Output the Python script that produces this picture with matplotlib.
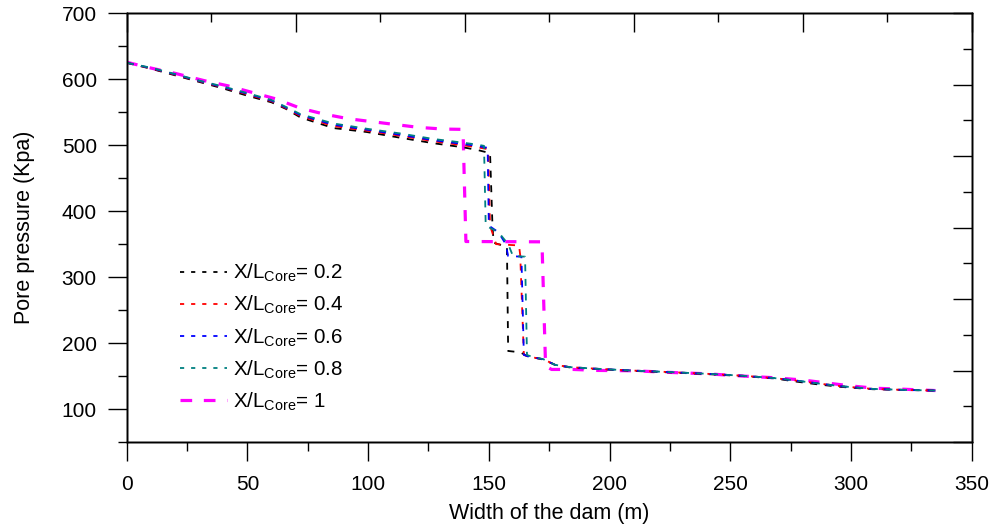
import matplotlib
matplotlib.use('Agg')
import matplotlib.pyplot as plt
from matplotlib.ticker import MultipleLocator

plt.rcParams['font.family'] = ['Liberation Sans', 'DejaVu Sans']
plt.rcParams['mathtext.fontset'] = 'custom'
plt.rcParams['mathtext.rm'] = 'Liberation Sans'
plt.rcParams['mathtext.it'] = 'Liberation Sans:italic'
plt.rcParams['lines.scale_dashes'] = False

# ---- data ----
x_02 = [0, 10, 20, 30, 40, 50, 60, 66, 72, 85.6, 99.4, 113, 127, 139, 145, 150.5,
        151.5, 152, 157.5, 158, 163, 166, 172.6, 177.4, 183.6, 195, 208.5, 225,
        240, 255, 268, 277.5, 287, 296, 309, 322, 335]
y_02 = [625, 616, 606, 596, 586, 575, 565, 555, 542, 526, 520, 511.5, 503, 497, 493, 488,
        378, 352, 346, 188, 186, 180, 175, 167, 163, 160.5, 158, 155.5,
        153, 150, 146.5, 141.5, 137, 133.5, 130, 129, 128]

x_04 = [0, 10, 20, 30, 40, 50, 60, 66, 72, 85.6, 99.4, 113, 127, 139, 145, 149.7,
        150.5, 153, 162.5, 163, 164.5, 167, 172.6, 177.4, 183.6, 195, 208.5, 225,
        240, 255, 268, 277.5, 287, 296, 309, 322, 335]
y_04 = [625, 616.5, 607, 597, 587.5, 577, 566.5, 556, 544, 529, 522, 514.5, 506, 500, 497, 494,
        378, 350, 348, 333, 182, 179, 175.5, 167, 163.5, 161, 158.5, 156,
        153.5, 150.5, 147, 143, 138.5, 134.5, 130.5, 129, 128]

x_06 = [0, 10, 20, 30, 40, 50, 60, 66, 72, 85.6, 99.4, 113, 127, 139, 145, 149.5,
        150, 154, 157, 158, 163.5, 164.5, 167, 172.6, 177.4, 183.6, 195, 208.5, 225,
        240, 255, 268, 277.5, 287, 296, 309, 322, 335]
y_06 = [625, 617, 607.5, 597.5, 588, 578, 567.5, 557, 545.5, 531, 523.5, 516, 507.5, 502, 499, 496,
        378, 368, 350, 332, 331, 182, 179, 175.5, 167, 163.5, 161, 158.5, 156,
        153.5, 150.5, 147, 143, 138.5, 134.5, 130.5, 129, 128]

x_08 = [0, 10, 20, 30, 40, 50, 60, 66, 72, 85.6, 99.4, 113, 127, 139, 145, 148,
        148.7, 154, 158, 160, 165, 165.8, 168, 172.6, 177.4, 183.6, 195, 208.5, 225,
        240, 255, 268, 277.5, 287, 296, 309, 322, 335]
y_08 = [625, 617.5, 608, 598, 589, 579, 568.5, 558, 547, 533, 525, 518, 509.5, 504, 501, 499,
        378, 368, 350, 332, 331, 182, 179, 175.5, 167, 163.5, 161, 158.5, 156,
        153.5, 150.5, 147, 143, 138.5, 134.5, 130.5, 129, 128]

x_10 = [0, 2, 10, 20, 32, 42, 52, 62, 72, 82, 92, 101, 112, 121, 131, 139.3,
        140.5, 172, 173.5, 176, 185, 195, 210, 225, 240, 255, 268, 280, 290, 300,
        310, 322, 335]
y_10 = [626, 624, 617, 609, 598, 590, 580, 570, 556, 547, 540, 536, 531, 527, 524.5, 524,
        354, 353.5, 165, 160, 160, 158.5, 158, 155.5, 153.5, 150, 147.5, 144, 139.5, 135,
        131.5, 130, 128]

labels = [r'X/L$_{\mathrm{Core}}$= 0.2', r'X/L$_{\mathrm{Core}}$= 0.4',
          r'X/L$_{\mathrm{Core}}$= 0.6', r'X/L$_{\mathrm{Core}}$= 0.8',
          r'X/L$_{\mathrm{Core}}$= 1']
colors = ['black', '#ff0000', '#0000ff', '#008080', '#ff00ff']

xticks = [0, 50, 100, 150, 200, 250, 300, 350]
yticks = [100, 200, 300, 400, 500, 600, 700]

# ---- figure ----
fig = plt.figure(figsize=(9.91, 5.24), dpi=100)
ax = fig.add_axes([0.12785, 0.15649, 0.85267, 0.81813])

series = [(x_02, y_02), (x_04, y_04), (x_06, y_06), (x_08, y_08)]
handles = []
mag, = ax.plot(x_10, y_10, color=colors[4], lw=2.3, dashes=(8, 9), label=labels[4], zorder=2)
for (xs, ys), c, lab in zip(series, colors[:4], labels[:4]):
    hh, = ax.plot(xs, ys, color=c, lw=1.3, dashes=(5, 5.5), label=lab, zorder=3)
    handles.append(hh)
handles.append(mag)

ax.set_xlim(0, 350)
ax.set_ylim(50, 700)
ax.set_xticks(xticks)
ax.set_yticks(yticks)
ax.xaxis.set_minor_locator(MultipleLocator(25))
ax.yaxis.set_minor_locator(MultipleLocator(50))
ax.tick_params(which='both', direction='out', width=1.0, labelsize=15,
               top=False, right=False)
ax.tick_params(which='major', length=13.5)
ax.tick_params(axis='x', which='major', pad=10)
ax.tick_params(axis='y', which='major', pad=8)
ax.tick_params(which='minor', length=6.5)
for sp in ax.spines.values():
    sp.set_linewidth(1.0)

# right axis: unlabeled, 6 equal divisions, ticks pointing inward
axr = ax.twinx()
axr.set_ylim(0, 6)
axr.yaxis.set_major_locator(MultipleLocator(1))
axr.yaxis.set_minor_locator(MultipleLocator(0.5))
axr.tick_params(which='both', direction='in', width=1.0, labelright=False)
axr.tick_params(which='major', length=13.5)
axr.tick_params(which='minor', length=6.5)

# top axis: unlabeled, 5 equal divisions, ticks pointing inward
axt = ax.twiny()
axt.set_xlim(0, 5)
axt.xaxis.set_major_locator(MultipleLocator(1))
axt.xaxis.set_minor_locator(MultipleLocator(0.5))
axt.tick_params(which='both', direction='in', width=1.0, labeltop=False)
axt.tick_params(which='major', length=13.5)
axt.tick_params(which='minor', length=6.5)
for a in (axr, axt):
    for sp in a.spines.values():
        sp.set_linewidth(1.0)

ax.set_xlabel('Width of the dam (m)', fontsize=15.5, labelpad=7)
ax.set_ylabel('Pore pressure (Kpa)', fontsize=15.5, labelpad=19)

leg = ax.legend(handles=handles, labels=labels, loc='upper left',
                bbox_to_anchor=((180 - 126.7) / 845, (442 - 262) / 428.7),
                frameon=False, fontsize=14.8, handlelength=2.3, handletextpad=0.3,
                labelspacing=0.48, borderpad=0, borderaxespad=0)
for ln in leg.get_lines()[:4]:
    ln.set_dashes((3, 5))
leg.get_lines()[4].set_dashes((8.4, 8.4))

fig.savefig('out.png', dpi=100)
